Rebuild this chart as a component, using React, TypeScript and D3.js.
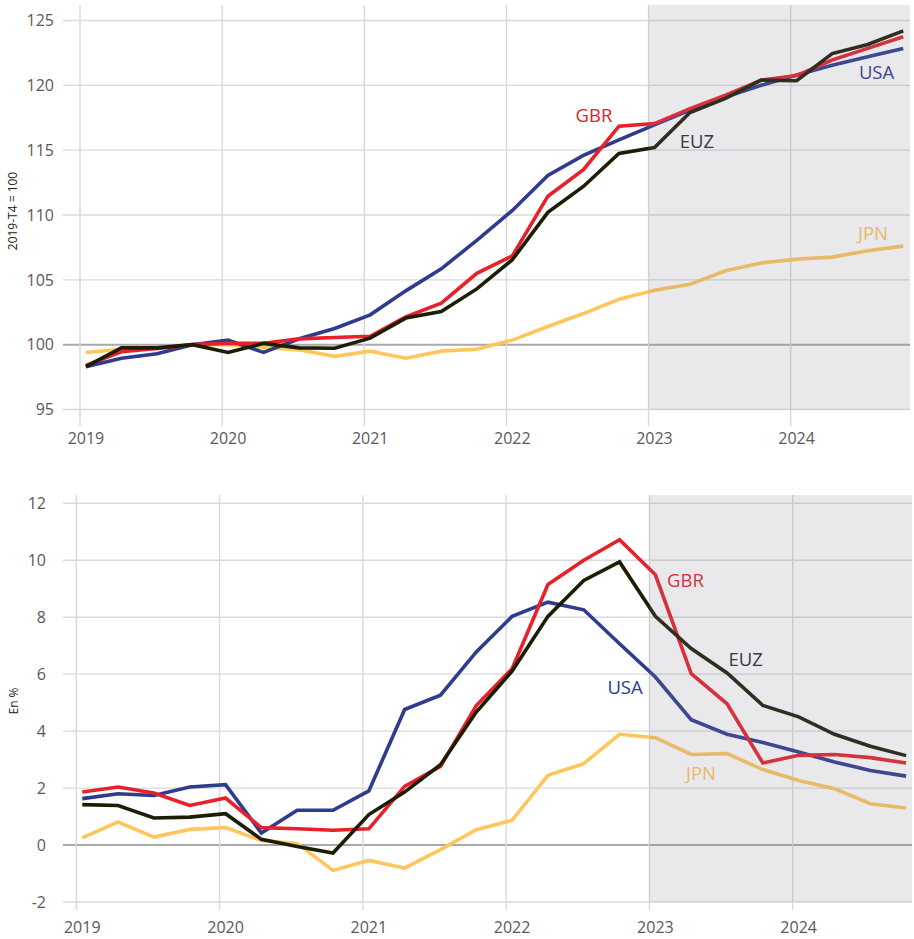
import React from "react";
import * as d3 from "d3";

// ---------- DATA ----------
const years = [2019, 2020, 2021, 2022, 2023, 2024];
const quarters = [
  "2019-T1","2019-T2","2019-T3","2019-T4","2020-T1","2020-T2","2020-T3","2020-T4",
  "2021-T1","2021-T2","2021-T3","2021-T4","2022-T1","2022-T2","2022-T3","2022-T4",
  "2023-T1","2023-T2","2023-T3","2023-T4","2024-T1","2024-T2","2024-T3","2024-T4",
];
const forecastStart = 2023;

// Top panel: index, 2019-T4 = 100
const topTicks = [95, 100, 105, 110, 115, 120, 125];
const usaIndex = [98.3, 98.95, 99.3, 100.0, 100.35, 99.4, 100.45, 101.25, 102.3, 104.15, 105.85, 108.05, 110.35, 113.05, 114.6, 115.8, 116.95, 118.1, 119.1, 120.0, 120.8, 121.55, 122.2, 122.85];
const gbrIndex = [98.4, 99.45, 99.7, 100.0, 100.1, 100.1, 100.45, 100.55, 100.65, 102.15, 103.2, 105.5, 106.85, 111.45, 113.5, 116.85, 117.05, 118.2, 119.25, 120.4, 120.75, 121.95, 122.85, 123.75];
const euzIndex = [98.3, 99.75, 99.75, 100.0, 99.4, 100.1, 99.75, 99.72, 100.5, 102.05, 102.55, 104.3, 106.55, 110.2, 112.2, 114.75, 115.2, 117.9, 119.0, 120.4, 120.35, 122.45, 123.15, 124.2];
const jpnIndex = [99.4, 99.65, 99.7, 100.0, 100.0, 99.8, 99.6, 99.1, 99.5, 98.95, 99.5, 99.65, 100.35, 101.4, 102.4, 103.5, 104.2, 104.65, 105.7, 106.3, 106.6, 106.75, 107.25, 107.6];

// Bottom panel: inflation, in %
const bottomTicks = [-2, 0, 2, 4, 6, 8, 10, 12];
const usaInfl = [1.63, 1.8, 1.74, 2.04, 2.12, 0.42, 1.22, 1.22, 1.9, 4.76, 5.26, 6.78, 8.03, 8.53, 8.26, 7.07, 5.9, 4.4, 3.89, 3.6, 3.27, 2.92, 2.62, 2.42];
const gbrInfl = [1.86, 2.04, 1.83, 1.39, 1.65, 0.61, 0.57, 0.52, 0.57, 2.06, 2.76, 4.9, 6.19, 9.15, 10.0, 10.72, 9.49, 6.02, 4.96, 2.88, 3.15, 3.18, 3.07, 2.88];
const euzInfl = [1.42, 1.39, 0.95, 0.98, 1.1, 0.2, -0.05, -0.28, 1.07, 1.86, 2.82, 4.67, 6.11, 8.03, 9.29, 9.94, 8.03, 6.9, 6.04, 4.9, 4.5, 3.89, 3.47, 3.14];
const jpnInfl = [0.25, 0.81, 0.28, 0.55, 0.61, 0.16, 0.05, -0.89, -0.54, -0.81, -0.16, 0.54, 0.87, 2.45, 2.86, 3.89, 3.77, 3.18, 3.21, 2.65, 2.27, 1.98, 1.45, 1.3];

// series label anchors (data coordinates: year, value)
const topLabels = [
  { name: "GBR", at: [2022.616, 117.17] },
  { name: "EUZ", at: [2023.341, 115.17] },
  { name: "USA", at: [2024.604, 120.49] },
  { name: "JPN", at: [2024.579, 108.07] },
];
const bottomLabels = [
  { name: "GBR", at: [2023.252, 9.05] },
  { name: "EUZ", at: [2023.671, 6.27] },
  { name: "USA", at: [2022.83, 5.29] },
  { name: "JPN", at: [2023.36, 2.27] },
];

// ---------- STYLE ----------
const COLORS: Record<string, string> = {
  JPN: "#fec65c",
  USA: "#2e3b8f",
  GBR: "#e8202a",
  EUZ: "#1d1d06",
};
const FONT = "'Open Sans', 'DejaVu Sans', sans-serif";

// quarter position: middle of the first month of the quarter
const qx = (i: number) => Math.floor(i / 4) + 2019 + ((i % 4) * 3 + 0.5) / 12;

type PanelProps = {
  series: { name: string; values: number[] }[];
  labels: { name: string; at: number[] }[];
  ticks: number[];
  baseline: number;
  xRange: [number, number];
  yRange: [number, number];
  gridLeft: number;
  gridRight: number;
  vTop: number;
  vBottom: number;
  yLabelX: number;
  xLabelY: number;
  title: string;
  titleX: number;
  titleY: number;
};

function Panel(p: PanelProps) {
  const x = d3.scaleLinear().domain([2019, 2024]).range(p.xRange);
  const ext = d3.extent(p.ticks) as [number, number];
  const y = d3.scaleLinear().domain(ext).range(p.yRange);
  const line = d3
    .line<number>()
    .x((_, i) => x(qx(i)))
    .y((v) => y(v));
  return (
    <g>
      {p.ticks.map((t) => (
        <line
          key={"h" + t}
          x1={p.gridLeft}
          x2={p.gridRight}
          y1={y(t)}
          y2={y(t)}
          stroke={t === p.baseline ? "#a9a9a9" : "#d9d9d9"}
          strokeWidth={t === p.baseline ? 2 : 1.4}
        />
      ))}
      {years.map((yr) => (
        <line
          key={"v" + yr}
          x1={x(yr)}
          x2={x(yr)}
          y1={p.vTop}
          y2={p.vBottom}
          stroke="#d9d9d9"
          strokeWidth={1.4}
        />
      ))}
      {p.ticks.map((t) => (
        <text
          key={"yt" + t}
          x={p.yLabelX}
          y={y(t)}
          dy="0.36em"
          textAnchor="end"
          fontSize={16}
          fill="#595959"
          fontFamily={FONT}
        >
          {t}
        </text>
      ))}
      {years.map((yr) => (
        <text
          key={"xt" + yr}
          x={x(yr + 0.5 / 12)}
          y={p.xLabelY}
          textAnchor="middle"
          fontSize={16}
          fill="#595959"
          fontFamily={FONT}
        >
          {yr}
        </text>
      ))}
      <text
        transform={`translate(${p.titleX},${p.titleY}) rotate(-90)`}
        textAnchor="middle"
        dy="0.35em"
        fontSize={12}
        fill="#222"
        fontFamily={FONT}
      >
        {p.title}
      </text>
      {p.series.map((s) => (
        <path
          key={s.name}
          d={line(s.values) || ""}
          fill="none"
          stroke={COLORS[s.name]}
          strokeWidth={3.6}
          strokeLinejoin="miter"
          strokeLinecap="butt"
        />
      ))}
      {p.labels.map((l) => (
        <text
          key={"l" + l.name}
          x={x(l.at[0])}
          y={y(l.at[1])}
          textAnchor="middle"
          fontSize={18.5}
          fontWeight={500}
          fill={l.name === "EUZ" ? "#2a2a2a" : COLORS[l.name]}
          fontFamily={FONT}
        >
          {l.name}
        </text>
      ))}
      <rect
        x={x(forecastStart)}
        y={p.vTop}
        width={p.gridRight - x(forecastStart)}
        height={y(ext[0]) - p.vTop}
        fill="rgb(134,134,151)"
        fillOpacity={0.18}
      />
    </g>
  );
}

export default function App() {
  const topSeries = [
    { name: "JPN", values: jpnIndex },
    { name: "USA", values: usaIndex },
    { name: "GBR", values: gbrIndex },
    { name: "EUZ", values: euzIndex },
  ];
  const bottomSeries = [
    { name: "JPN", values: jpnInfl },
    { name: "USA", values: usaInfl },
    { name: "GBR", values: gbrInfl },
    { name: "EUZ", values: euzInfl },
  ];
  return (
    <svg
      width={914}
      height={939}
      style={{ position: "absolute", left: 0, top: 0, background: "#fff" }}
      data-quarters={quarters.length}
    >
      <rect width={914} height={939} fill="#fff" />
      <Panel
        series={topSeries}
        labels={topLabels}
        ticks={topTicks}
        baseline={100}
        xRange={[80, 790.7]}
        yRange={[409.5, 20.5]}
        gridLeft={63}
        gridRight={910}
        vTop={5}
        vBottom={426}
        yLabelX={54}
        xLabelY={444}
        title="2019-T4 = 100"
        titleX={13}
        titleY={211}
      />
      <Panel
        series={bottomSeries}
        labels={bottomLabels}
        ticks={bottomTicks}
        baseline={0}
        xRange={[76.3, 792.7]}
        yRange={[902, 503.3]}
        gridLeft={63}
        gridRight={912}
        vTop={495}
        vBottom={910}
        yLabelX={46}
        xLabelY={933}
        title="En %"
        titleX={14}
        titleY={701}
      />
    </svg>
  );
}
